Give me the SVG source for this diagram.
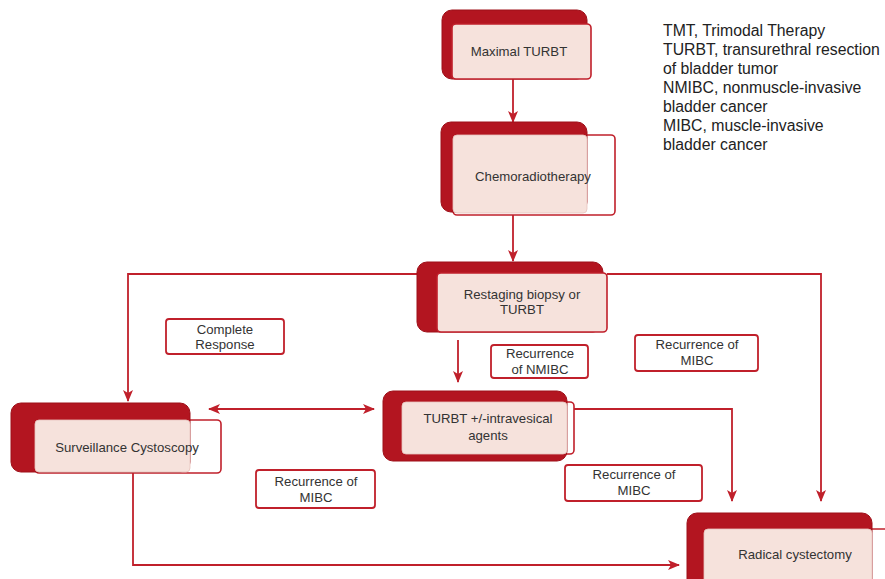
<svg xmlns="http://www.w3.org/2000/svg" width="885" height="579" viewBox="0 0 885 579">
<defs>
<style>
.dark{fill:#B31520;stroke:#9E1019;stroke-width:1}
.out{fill:#FFFFFF;stroke:#C0202B;stroke-width:1.6}
.pink{fill:#F6E2DC;stroke:#E8C4BE;stroke-width:0.8}
.pinko{fill:#F6E2DC;stroke:#C0202B;stroke-width:1.6}
.lbl{fill:#FFFFFF;stroke:#C0202B;stroke-width:1.8}
.t{font-family:"Liberation Sans",Arial,sans-serif;font-size:13.2px;fill:#333333;text-anchor:middle}
.leg{font-family:"Liberation Sans",Arial,sans-serif;font-size:15.8px;fill:#222222}
.c{fill:none;stroke:#C0202B;stroke-width:1.8}
</style>
<marker id="ah" viewBox="0 0 12 10" refX="11" refY="5" markerWidth="12" markerHeight="10" markerUnits="userSpaceOnUse" orient="auto-start-reverse">
<path d="M0,0 L12,5 L0,10 L3,5 Z" fill="#C0202B"/>
</marker>
</defs>

<g id="connectors">
<line class="c" x1="513" y1="79" x2="513" y2="122" marker-end="url(#ah)"/>
<line class="c" x1="513" y1="215" x2="513" y2="261" marker-end="url(#ah)"/>
<polyline class="c" points="418,274 128,274 128,401" marker-end="url(#ah)"/>
<polyline class="c" points="607,274 821,274 821,501" marker-end="url(#ah)"/>
<line class="c" x1="458" y1="340" x2="458" y2="382" marker-end="url(#ah)"/>
<line class="c" x1="209" y1="409" x2="374" y2="409" marker-start="url(#ah)" marker-end="url(#ah)"/>
<polyline class="c" points="574,409 732,409 732,501" marker-end="url(#ah)"/>
<polyline class="c" points="133,473 133,565 679,565" marker-end="url(#ah)"/>
</g>

<g id="node-maximal-turbt">
<rect class="dark" x="442" y="10" width="145" height="69" rx="10"/>
<rect class="pinko" x="452" y="24" width="139" height="55" rx="4"/>
<text class="t" x="519" y="56">Maximal TURBT</text>
</g>

<g id="node-chemoradiotherapy">
<rect class="out" x="453" y="135" width="162" height="80" rx="4"/>
<rect class="dark" x="441" y="122" width="146" height="90" rx="10"/>
<rect class="pink" x="453" y="135" width="134" height="78" rx="4"/>
<text class="t" x="533" y="181">Chemoradiotherapy</text>
</g>

<g id="node-restaging">
<rect class="dark" x="417" y="262" width="186" height="70" rx="10"/>
<rect class="pinko" x="437" y="273" width="170" height="59" rx="4"/>
<text class="t" x="522" y="299">Restaging biopsy or</text>
<text class="t" x="522" y="314">TURBT</text>
</g>

<g id="node-surveillance">
<rect class="out" x="35" y="420" width="186" height="53" rx="4"/>
<rect class="dark" x="11" y="403" width="179" height="69" rx="10"/>
<rect class="pink" x="35" y="420" width="155" height="52" rx="4"/>
<text class="t" x="127" y="452">Surveillance Cystoscopy</text>
</g>

<g id="node-turbt-intravesical">
<rect class="out" x="402" y="402" width="172" height="52" rx="4"/>
<rect class="dark" x="383" y="391" width="184" height="70" rx="10"/>
<rect class="pink" x="402" y="402" width="165" height="52" rx="4"/>
<text class="t" x="488" y="423">TURBT +/-intravesical</text>
<text class="t" x="488" y="440">agents</text>
</g>

<g id="node-radical-cystectomy">
<rect class="out" x="704" y="529" width="200" height="70" rx="4"/>
<rect class="dark" x="687" y="513" width="185" height="80" rx="10"/>
<rect class="pink" x="704" y="529" width="168" height="64" rx="4"/>
<text class="t" x="795" y="559">Radical cystectomy</text>
</g>

<g id="label-complete-response">
<rect class="lbl" x="166" y="319" width="118" height="35" rx="3"/>
<text class="t" x="225" y="334">Complete</text>
<text class="t" x="225" y="349">Response</text>
</g>

<g id="label-recurrence-nmibc">
<rect class="lbl" x="491" y="345" width="97" height="33" rx="3"/>
<text class="t" x="540" y="358">Recurrence</text>
<text class="t" x="540" y="374">of NMIBC</text>
</g>

<g id="label-recurrence-mibc-1">
<rect class="lbl" x="635" y="335" width="123" height="36" rx="3"/>
<text class="t" x="697" y="349">Recurrence of</text>
<text class="t" x="697" y="365">MIBC</text>
</g>

<g id="label-recurrence-mibc-2">
<rect class="lbl" x="256" y="470" width="119" height="38" rx="3"/>
<text class="t" x="316" y="486">Recurrence of</text>
<text class="t" x="316" y="502">MIBC</text>
</g>

<g id="label-recurrence-mibc-3">
<rect class="lbl" x="565" y="465" width="137" height="36" rx="3"/>
<text class="t" x="634" y="479">Recurrence of</text>
<text class="t" x="634" y="495">MIBC</text>
</g>

<g id="legend">
<text class="leg" x="663" y="36">TMT, Trimodal Therapy</text>
<text class="leg" x="663" y="55">TURBT, transurethral resection</text>
<text class="leg" x="663" y="74">of bladder tumor</text>
<text class="leg" x="663" y="93">NMIBC, nonmuscle-invasive</text>
<text class="leg" x="663" y="112">bladder cancer</text>
<text class="leg" x="663" y="131">MIBC, muscle-invasive</text>
<text class="leg" x="663" y="150">bladder cancer</text>
</g>
</svg>
